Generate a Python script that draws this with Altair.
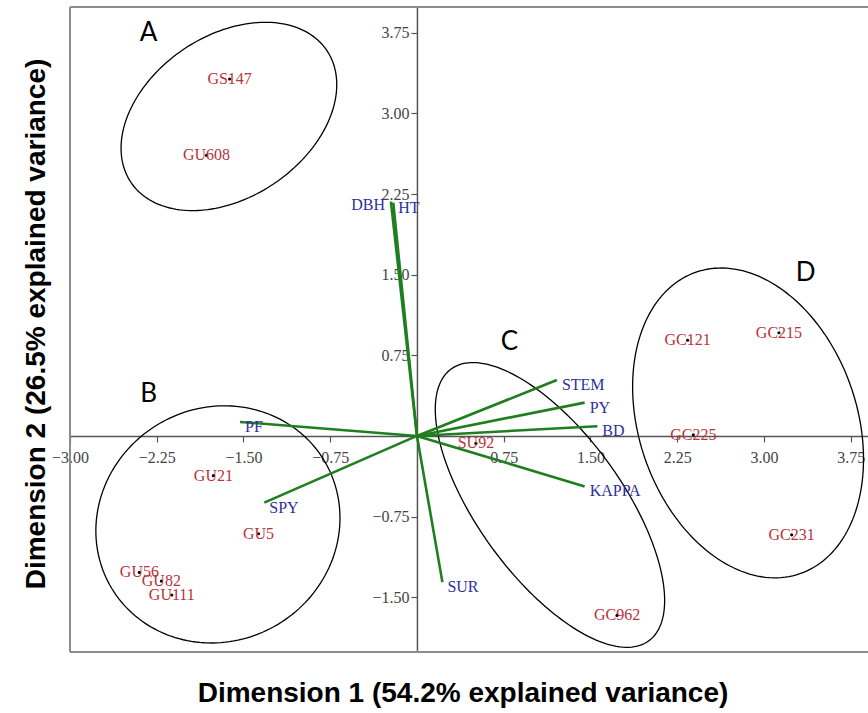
import altair as alt
import numpy as np
import pandas as pd

# ---------------- data ----------------
genotypes = ["GS147", "GU608", "GU21", "GU5", "GU56", "GU82", "GU111",
             "SU92", "GC962", "GC121", "GC215", "GC225", "GC231"]
geno_x = [-1.62, -1.82, -1.76, -1.37, -2.40, -2.21, -2.12,
          0.51, 1.73, 2.34, 3.13, 2.39, 3.24]
geno_y = [3.32, 2.61, -0.37, -0.91, -1.27, -1.35, -1.48,
          -0.07, -1.67, 0.89, 0.96, 0.01, -0.92]

variables = ["DBH", "HT", "PF", "SPY", "SUR", "STEM", "PY", "BD", "KAPPA"]
var_x = [-0.225, -0.205, -1.53, -1.32, 0.22, 1.21, 1.45, 1.56, 1.45]
var_y = [2.18, 2.17, 0.13, -0.62, -1.36, 0.52, 0.31, 0.09, -0.47]

groups = ["A", "B", "C", "D"]
group_lx = [-2.32, -2.32, 0.80, 3.36]
group_ly = [3.75, 0.39, 0.87, 1.52]
# cluster ellipses: centre, semi-axes (x units), rotation (deg)
ell_cx = [-1.626, -1.721, 1.150, 2.863]
ell_cy = [2.972, -0.823, -0.642, 0.121]
ell_a = [1.021, 1.072, 1.453, 1.379]
ell_b = [0.700, 1.008, 0.623, 0.943]
ell_deg = [34, 31, -54, -71]

x_ticks = [-3.0, -2.25, -1.5, -0.75, 0.75, 1.5, 2.25, 3.0, 3.75]
y_ticks = [-1.5, -0.75, 0.75, 1.5, 2.25, 3.0, 3.75]
x_title = "Dimension 1 (54.2% explained variance)"
y_title = "Dimension 2 (26.5% explained variance)"

# ---------------- layout ----------------
W, H = 798, 645
XDOM = [-3.0, 3.90]
YDOM = [-2.01, 3.99]
aspect = (W / (XDOM[1] - XDOM[0])) / (H / (YDOM[1] - YDOM[0]))
x_off = -H * (0 - YDOM[0]) / (YDOM[1] - YDOM[0])
y_off = -W * (0 - XDOM[0]) / (XDOM[1] - XDOM[0])

axis_common = dict(title=None, grid=False, format=".2f", domainColor="#555555",
                   domainWidth=1.5, tickColor="#555555", tickSize=6, tickWidth=1.2,
                   labelFont="Liberation Serif", labelFontSize=16, labelColor="#444444",
                   labelOverlap=False, labelFlush=False)
xaxis = alt.Axis(values=x_ticks, offset=x_off, labelPadding=8, **axis_common)
yaxis = alt.Axis(values=y_ticks, offset=y_off, labelPadding=2, **axis_common)
xs = alt.Scale(domain=XDOM, nice=False, zero=False)
ys = alt.Scale(domain=YDOM, nice=False, zero=False)


def X(f):
    return alt.X(f, type="quantitative", scale=xs, axis=xaxis)


def Y(f):
    return alt.Y(f, type="quantitative", scale=ys, axis=yaxis)


# ellipse outlines
rows = []
for g, cx, cy, a, b, d in zip(groups, ell_cx, ell_cy, ell_a, ell_b, ell_deg):
    th = np.radians(d)
    for i, t in enumerate(np.radians(np.arange(0, 362, 2))):
        ux = a * np.cos(t) * np.cos(th) - b * np.sin(t) * np.sin(th)
        uy = a * np.cos(t) * np.sin(th) + b * np.sin(t) * np.cos(th)
        rows.append({"g": g, "i": i, "x": cx + ux, "y": cy + uy * aspect})
ell_df = pd.DataFrame(rows)

geno_df = pd.DataFrame({"name": genotypes, "x": geno_x, "y": geno_y})
var_df = pd.DataFrame({"name": variables, "x": var_x, "y": var_y,
                       "x0": [0.0] * len(variables), "y0": [0.0] * len(variables)})
grp_df = pd.DataFrame({"name": groups, "x": group_lx, "y": group_ly})
one = pd.DataFrame({"t": [""]})

ellipses = alt.Chart(ell_df).mark_line(color="black", strokeWidth=1.3, clip=True).encode(
    x=X("x"), y=Y("y"), detail="g:N", order="i:Q")

arrows = alt.Chart(var_df).mark_rule(color="#1f7f1f", strokeWidth=2.6).encode(
    x=X("x0"), y=Y("y0"), x2="x", y2="y")

var_labels = alt.Chart(var_df).transform_filter("datum.name != 'DBH'").mark_text(
    align="left", baseline="middle", dx=5, dy=5, font="Liberation Serif",
    fontSize=16, color="#2f2f9c").encode(x=X("x"), y=Y("y"), text="name")
dbh_label = alt.Chart(var_df).transform_filter("datum.name == 'DBH'").mark_text(
    align="right", baseline="middle", dx=-6, dy=3, font="Liberation Serif",
    fontSize=16, color="#2f2f9c").encode(x=X("x"), y=Y("y"), text="name")

dots = alt.Chart(geno_df).mark_circle(color="black", size=10, opacity=1).encode(
    x=X("x"), y=Y("y"))
geno_labels = alt.Chart(geno_df).mark_text(
    align="center", baseline="middle", font="Liberation Serif", fontSize=16,
    color="#b8333a").encode(x=X("x"), y=Y("y"), text="name")

grp_labels = alt.Chart(grp_df).mark_text(
    align="center", baseline="middle", font="Lato", fontSize=26, color="black").encode(
    x=X("x"), y=Y("y"), text="name")

frame_style = dict(color="#8c8c8c", strokeWidth=2)
frame_top = alt.Chart(one).mark_rule(**frame_style).encode(
    x=alt.value(0), x2=alt.value(W), y=alt.value(0))
frame_left = alt.Chart(one).mark_rule(**frame_style).encode(
    x=alt.value(0), y=alt.value(0), y2=alt.value(H))
frame_bottom = alt.Chart(one).mark_rule(**frame_style).encode(
    x=alt.value(0), x2=alt.value(W), y=alt.value(H))

xt = alt.Chart(pd.DataFrame({"t": [x_title]})).mark_text(
    align="center", baseline="alphabetic", font="Liberation Sans", fontWeight="bold",
    fontSize=28, color="black").encode(x=alt.value(393), y=alt.value(695), text="t")
yt = alt.Chart(pd.DataFrame({"t": [y_title]})).mark_text(
    align="center", baseline="alphabetic", angle=270, font="Liberation Sans",
    fontWeight="bold", fontSize=28, color="black").encode(
    x=alt.value(-25), y=alt.value(317), text="t")

chart = alt.layer(
    ellipses, arrows, dots, geno_labels, var_labels, dbh_label, grp_labels,
    frame_top, frame_left, frame_bottom, xt, yt
).properties(
    width=W, height=H,
    autosize=alt.AutoSizeParams(type="none"),
    padding={"left": 70, "top": 7, "right": 0, "bottom": 61},
    background="white",
).configure_view(stroke=None)

chart.save("out.html", embed_options={"renderer": "svg", "actions": False})
